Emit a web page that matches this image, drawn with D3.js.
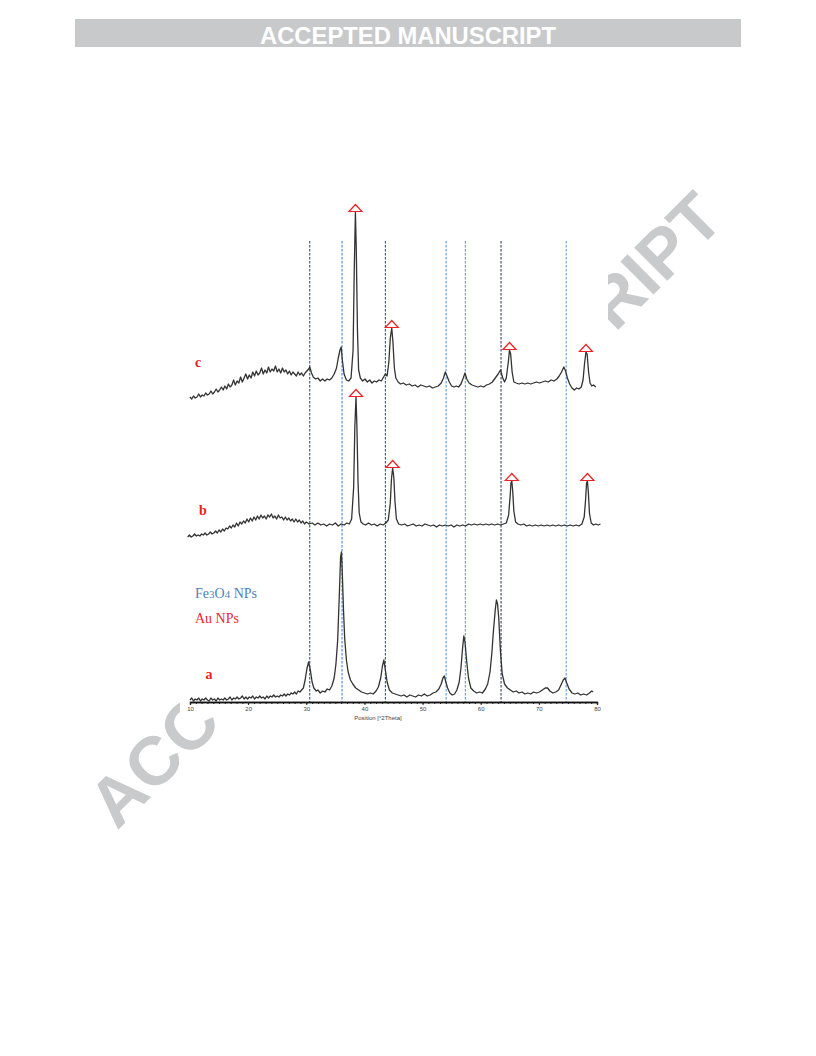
<!DOCTYPE html>
<html>
<head>
<meta charset="utf-8">
<script src="https://cdn.jsdelivr.net/npm/d3@7"></script>
<style>
  html, body { margin: 0; padding: 0; background: #fff; }
  svg { display: block; }
</style>
</head>
<body>
<svg id="page" width="816" height="1056"></svg>
<script>
// ---- XRD patterns, 2θ (degrees) vs. intensity (a.u.) ----
// a: Fe3O4 NPs
const patternA = [[10,2],[10.3,4],[10.6,1],[10.9,3],[11.2,2],[11.5,4],[11.8,1],[12.1,3],[12.4,2],[12.7,4],[13,2],[13.3,1],[13.6,4],[13.9,2],[14.2,3],[14.5,1],[14.8,4],[15.1,2],[15.4,3],[15.7,2],[16,4],[16.3,2],[16.6,3],[16.9,5],[17.2,2],[17.5,4],[17.8,3],[18.1,5],[18.4,3],[18.7,4],[19,6],[19.3,3],[19.6,5],[19.9,3],[20.2,5],[20.5,4],[20.8,6],[21.1,3],[21.4,5],[21.7,4],[22,6],[22.3,4],[22.6,5],[22.9,3],[23.2,6],[23.5,4],[23.8,6],[24.1,5],[24.4,7],[24.7,5],[25,6],[25.3,5],[25.6,7],[25.9,6],[26.2,8],[26.5,6],[26.8,8],[27.1,7],[27.4,9],[27.7,8],[28,10],[28.3,8],[28.6,11],[28.9,10],[29.2,12],[29.5,14],[29.8,22],[30.1,33],[30.4,40],[30.7,32],[31,20],[31.3,14],[31.7,11],[32,12],[32.4,9],[32.8,11],[33.2,10],[33.6,13],[34,12],[34.4,16],[34.8,24],[35.1,38],[35.4,62],[35.7,110],[35.9,145],[36.05,150],[36.2,128],[36.4,92],[36.6,64],[36.9,42],[37.2,30],[37.6,22],[38,18],[38.5,14],[39,12],[39.5,10],[40,9],[40.5,8],[41,9],[41.5,8],[42,11],[42.4,15],[42.8,24],[43.1,36],[43.35,42],[43.6,32],[43.9,20],[44.3,12],[44.8,9],[45.3,8],[45.8,7],[46.3,6],[46.8,7],[47.3,5],[47.8,7],[48.3,6],[48.8,5],[49.3,7],[49.8,6],[50.3,8],[50.8,6],[51.3,7],[51.8,9],[52.3,10],[52.8,13],[53.2,18],[53.5,24],[53.75,26],[54,20],[54.3,14],[54.7,9],[55.1,7],[55.5,8],[55.9,12],[56.3,20],[56.6,34],[56.9,55],[57.1,66],[57.3,60],[57.6,40],[57.9,24],[58.3,14],[58.8,11],[59.3,9],[59.8,10],[60.3,9],[60.8,13],[61.2,18],[61.6,30],[61.9,48],[62.2,72],[62.5,92],[62.7,102],[62.9,98],[63.1,84],[63.4,50],[63.7,28],[64.1,18],[64.6,14],[65.1,12],[65.6,10],[66.1,11],[66.6,9],[67.1,10],[67.6,8],[68.1,9],[68.6,8],[69.1,10],[69.6,9],[70.1,10],[70.6,12],[71.1,14],[71.5,14],[71.9,11],[72.4,9],[72.9,10],[73.4,12],[73.8,17],[74.2,22],[74.5,24],[74.8,19],[75.2,13],[75.7,9],[76.2,8],[76.7,9],[77.2,7],[77.7,8],[78.2,7],[78.7,9],[79.1,11],[79.3,10]];

// b: Au NPs
const patternB = [[9.6,0],[9.9,2],[10.2,0],[10.5,1],[10.8,3],[11.1,1],[11.4,2],[11.7,1],[12,3],[12.3,2],[12.6,4],[12.9,2],[13.2,3],[13.5,5],[13.8,3],[14.1,4],[14.4,6],[14.7,4],[15,7],[15.3,5],[15.6,8],[15.9,6],[16.2,9],[16.5,8],[16.8,11],[17.1,9],[17.4,12],[17.7,10],[18,14],[18.3,11],[18.6,15],[18.9,13],[19.2,16],[19.5,14],[19.8,18],[20.1,15],[20.4,19],[20.7,16],[21,20],[21.3,17],[21.6,21],[21.9,18],[22.2,22],[22.5,19],[22.8,21],[23.1,18],[23.4,22],[23.7,20],[24,23],[24.3,19],[24.6,21],[24.9,18],[25.2,22],[25.5,19],[25.8,20],[26.1,17],[26.4,20],[26.7,17],[27,19],[27.3,16],[27.6,18],[27.9,15],[28.2,18],[28.5,15],[28.8,17],[29.1,14],[29.4,16],[29.7,13],[30,15],[30.5,13],[31,14],[31.5,12],[32,14],[32.5,12],[33,13],[33.5,11],[34,13],[34.5,12],[35,14],[35.5,11],[36,13],[36.5,12],[37,14],[37.4,13],[37.8,18],[38.15,50],[38.35,110],[38.55,140],[38.7,112],[38.9,55],[39.1,24],[39.4,15],[39.8,13],[40.2,12],[40.7,14],[41.2,12],[41.7,13],[42.2,11],[42.7,13],[43.2,12],[43.7,14],[44.1,17],[44.45,34],[44.65,58],[44.85,69],[45.05,60],[45.25,36],[45.5,18],[45.9,13],[46.4,12],[46.9,13],[47.4,11],[47.9,12],[48.4,13],[48.9,11],[49.4,12],[49.9,11],[50.4,13],[50.9,12],[51.4,11],[51.9,12],[52.4,10],[52.9,12],[53.4,11],[53.9,12],[54.4,11],[54.9,12],[55.4,10],[55.9,12],[56.4,11],[56.9,12],[57.4,11],[57.9,13],[58.4,12],[58.9,13],[59.4,12],[59.9,13],[60.4,12],[60.9,13],[61.4,12],[61.9,13],[62.4,12],[62.9,13],[63.4,12],[63.9,13],[64.4,14],[64.8,22],[65.05,40],[65.2,54],[65.35,56],[65.5,46],[65.7,26],[66,15],[66.4,13],[66.9,12],[67.4,13],[67.9,11],[68.4,12],[68.9,11],[69.4,12],[69.9,11],[70.4,12],[70.9,11],[71.4,12],[71.9,11],[72.4,12],[72.9,11],[73.4,12],[73.9,11],[74.4,12],[74.9,11],[75.4,12],[75.9,11],[76.4,12],[76.9,11],[77.4,13],[77.8,20],[78.05,38],[78.2,54],[78.35,56],[78.5,46],[78.7,24],[79,14],[79.4,12],[79.8,13],[80.2,12],[80.6,13]];

// c: Fe3O4@Au NPs
const patternC = [[10,3],[10.3,1],[10.6,4],[10.9,2],[11.2,3],[11.5,6],[11.8,3],[12.1,5],[12.4,4],[12.7,7],[13,5],[13.3,6],[13.6,9],[13.9,6],[14.2,8],[14.5,11],[14.8,8],[15.1,10],[15.4,13],[15.7,10],[16,14],[16.3,11],[16.6,16],[16.9,13],[17.2,15],[17.5,20],[17.8,15],[18.1,19],[18.4,17],[18.7,23],[19,18],[19.3,22],[19.6,26],[19.9,21],[20.2,25],[20.5,22],[20.8,28],[21.1,24],[21.4,29],[21.7,25],[22,27],[22.3,32],[22.6,26],[22.9,30],[23.2,27],[23.5,33],[23.8,28],[24.1,31],[24.4,29],[24.7,34],[25,28],[25.3,31],[25.6,27],[25.9,32],[26.2,28],[26.5,30],[26.8,26],[27.1,29],[27.4,25],[27.7,28],[28,26],[28.3,24],[28.6,28],[28.9,25],[29.2,27],[29.5,24],[29.8,27],[30.1,29],[30.4,31],[30.6,33],[30.9,27],[31.2,23],[31.6,21],[32,22],[32.4,19],[32.8,21],[33.2,19],[33.6,21],[34,20],[34.4,22],[34.8,26],[35.2,32],[35.5,42],[35.8,50],[36,53],[36.2,40],[36.5,26],[36.9,20],[37.3,19],[37.7,22],[38.05,50],[38.25,130],[38.45,188],[38.6,150],[38.8,70],[39,30],[39.3,22],[39.7,19],[40.1,21],[40.5,18],[40.9,20],[41.3,17],[41.7,19],[42.1,18],[42.5,20],[42.9,19],[43.3,23],[43.6,26],[43.9,24],[44.2,38],[44.45,62],[44.7,72],[44.9,58],[45.15,32],[45.4,22],[45.8,18],[46.2,16],[46.7,17],[47.2,15],[47.7,16],[48.2,14],[48.7,15],[49.2,13],[49.7,15],[50.2,14],[50.7,13],[51.2,14],[51.7,12],[52.2,13],[52.7,14],[53.2,17],[53.6,22],[53.9,28],[54.2,24],[54.6,18],[55,14],[55.4,13],[55.8,14],[56.2,13],[56.6,16],[57,22],[57.3,27],[57.6,21],[58,17],[58.5,15],[59,14],[59.5,13],[60,14],[60.5,13],[61,15],[61.5,16],[62,18],[62.5,22],[63,26],[63.4,30],[63.8,22],[64.1,18],[64.4,22],[64.75,38],[64.95,50],[65.15,46],[65.4,28],[65.7,18],[66.1,17],[66.6,16],[67.1,17],[67.6,16],[68.1,17],[68.6,16],[69.1,17],[69.6,18],[70.1,17],[70.6,18],[71.1,19],[71.6,18],[72.1,20],[72.6,19],[73.1,21],[73.5,24],[73.9,28],[74.3,33],[74.6,29],[74.9,22],[75.3,16],[75.7,12],[76.1,10],[76.5,12],[76.9,11],[77.3,13],[77.6,20],[77.85,36],[78.1,48],[78.3,46],[78.55,28],[78.8,17],[79.1,14],[79.4,15],[79.8,13]];

// vertical offsets of the stacked patterns (a.u.)
const patternOffsets = [0, 165, 302];
const patternLabels = ["a", "b", "c"];

// Fe3O4 reflections (dashed guides) and Au reflections (triangles), 2θ
const fe3o4Lines = [30.6, 36.15, 43.6, 54.05, 57.35, 63.5, 74.7];
const auPeaks = [38.5, 44.8, 65.2, 78.3];

// x-axis ticks
const xMajorTicks = [10, 20, 30, 40, 50, 60, 70, 80];
const xMinorTicks = d3.range(10, 81, 1);
const xTitle = "Position [°2Theta]";

// ---------------- drawing ----------------
const svg = d3.select("#page");
const W = 816, H = 1056;

svg.append("rect").attr("width", W).attr("height", H).attr("fill", "#fff");

// header banner
svg.append("rect")
  .attr("x", 75).attr("y", 19).attr("width", 666).attr("height", 28)
  .attr("fill", "#c8c9cb");
svg.append("text")
  .attr("x", 260).attr("y", 44)
  .attr("textLength", 296).attr("lengthAdjust", "spacingAndGlyphs")
  .attr("font-family", "'Liberation Sans Narrow', 'Arial Narrow', 'Liberation Sans', Arial, sans-serif")
  .attr("font-weight", "bold").attr("font-size", 23)
  .attr("fill", "#fff")
  .text("ACCEPTED MANUSCRIPT");

// diagonal watermark (mostly hidden behind the figure panel)
svg.append("text")
  .attr("transform", "translate(117,831) rotate(-45)")
  .attr("textLength", 862).attr("lengthAdjust", "spacingAndGlyphs")
  .attr("font-family", "'Liberation Sans', Arial, sans-serif")
  .attr("font-weight", "bold").attr("font-size", 68)
  .attr("fill", "#c9cacc")
  .text("ACCEPTED MANUSCRIPT");

// figure panel background
svg.append("rect").attr("x", 180).attr("y", 192).attr("width", 428).attr("height", 520).attr("fill", "#fff");
svg.append("rect").attr("x", 216).attr("y", 711).attr("width", 392).attr("height", 18).attr("fill", "#fff");

// scales
const x = d3.scaleLinear().domain([10, 80]).range([190, 597]);
const y = d3.scaleLinear().domain([0, 520]).range([702, 182]);

const plot = svg.append("g");

// dashed Fe3O4 guides
const guideColors = ["#1d3d8c", "#3b7ac6", "#1d3d8c", "#4a8fd6", "#4a8fd6", "#1b2a5a", "#4a8fd6"];
plot.selectAll("line.guide")
  .data(fe3o4Lines)
  .join("line")
  .attr("class", "guide")
  .attr("x1", d => x(d)).attr("x2", d => x(d))
  .attr("y1", y(461)).attr("y2", y(0))
  .attr("stroke", (d, i) => guideColors[i])
  .attr("stroke-width", 1)
  .attr("stroke-dasharray", "2.5,1.5");

// patterns
const patterns = [patternA, patternB, patternC];
const line = d3.line().x(d => x(d[0])).y(d => d[1]);

patterns.forEach((p, i) => {
  const off = patternOffsets[i];
  plot.append("path")
    .datum(p.map(d => [d[0], y(d[1] + off)]))
    .attr("d", line)
    .attr("fill", "none")
    .attr("stroke", "#333")
    .attr("stroke-width", 1.3)
    .attr("stroke-linejoin", "round");
});

// Au markers on b and c, placed at each local maximum
const triPath = "M-6.5,0L6.5,0L0,-7Z";
[1, 2].forEach(i => {
  const p = patterns[i], off = patternOffsets[i];
  auPeaks.forEach(pos => {
    const near = p.filter(d => Math.abs(d[0] - pos) <= 0.6);
    const top = near.reduce((a, b) => (b[1] > a[1] ? b : a));
    plot.append("path")
      .attr("d", triPath)
      .attr("transform", `translate(${x(top[0])},${y(top[1] + off) - 0.5})`)
      .attr("fill", "#fff")
      .attr("stroke", "#ee2222")
      .attr("stroke-width", 1.2);
  });
});

// x axis
const axisG = plot.append("g").attr("transform", `translate(0,${y(0)})`);
axisG.call(d3.axisBottom(x).tickValues(xMinorTicks).tickSize(2).tickFormat(""));
axisG.call(g => g.append("g").call(d3.axisBottom(x).tickValues(xMajorTicks).tickSize(3).tickFormat(d3.format("d"))));
axisG.selectAll("path.domain").attr("stroke", "#111").attr("stroke-width", 1.3);
axisG.selectAll(".tick line").attr("stroke", "#222");
axisG.selectAll(".tick text")
  .attr("font-family", "'Liberation Sans', Arial, sans-serif")
  .attr("font-size", 6).attr("fill", "#444").attr("dy", "0.55em");

plot.append("text")
  .attr("x", 378).attr("y", 720)
  .attr("text-anchor", "middle")
  .attr("font-family", "'Liberation Sans', Arial, sans-serif")
  .attr("font-size", 6).attr("fill", "#444")
  .text(xTitle);

// sample labels
const labelPos = [[209, 679], [203, 515], [198, 367]];
patternLabels.forEach((t, i) => {
  plot.append("text")
    .attr("x", labelPos[i][0]).attr("y", labelPos[i][1])
    .attr("text-anchor", "middle")
    .attr("font-family", "'Liberation Serif', 'Times New Roman', serif")
    .attr("font-weight", "bold").attr("font-size", 14)
    .attr("fill", "#ee1c1c")
    .text(t);
});

// legend
const leg1 = plot.append("text")
  .attr("x", 195).attr("y", 598)
  .attr("font-family", "'Liberation Serif', 'Times New Roman', serif")
  .attr("font-size", 14).attr("fill", "#4f81bd");
leg1.append("tspan").text("Fe");
leg1.append("tspan").attr("font-size", 11).text("3");
leg1.append("tspan").text("O");
leg1.append("tspan").attr("font-size", 11).text("4");
leg1.append("tspan").text(" NPs");

plot.append("text")
  .attr("x", 195).attr("y", 623)
  .attr("font-family", "'Liberation Serif', 'Times New Roman', serif")
  .attr("font-size", 14).attr("fill", "#ee2a2a")
  .text("Au NPs");
</script>
</body>
</html>
